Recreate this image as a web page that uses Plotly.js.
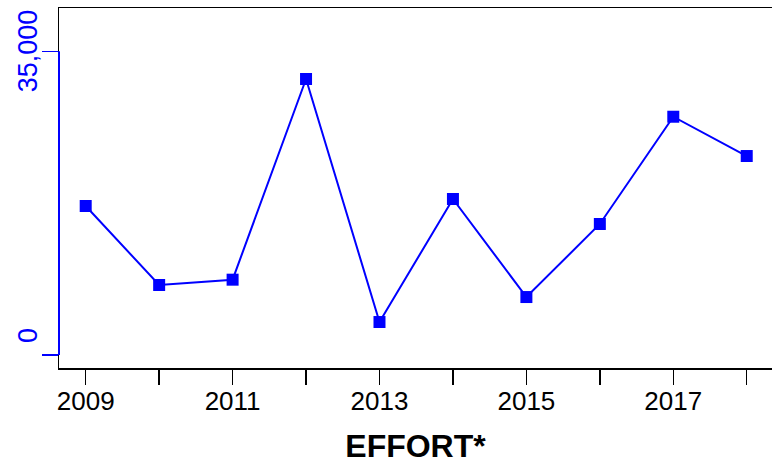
<!DOCTYPE html>
<html>
<head>
<meta charset="utf-8">
<script src="https://cdn.plot.ly/plotly-3.0.1.min.js"></script>
<style>html,body{margin:0;padding:0;background:#fff;}#chart{width:772px;height:466px;}</style>
</head>
<body>
<div id="chart"></div>
<script>
// Data
const years = [2009, 2010, 2011, 2012, 2013, 2014, 2015, 2016, 2017, 2018];
const effort = [17170, 8070, 8680, 31810, 3800, 17980, 6680, 15100, 27460, 22930];
const xTickVals = [2009, 2010, 2011, 2012, 2013, 2014, 2015, 2016, 2017, 2018];
const xTickText = ["2009", "", "2011", "", "2013", "", "2015", "", "2017", ""];
const yTickVals = [0, 35000];
const yTickText = ["0", "35,000"];
const titleText = "EFFORT*";

const FONT = "Liberation Sans, Arial, Helvetica, sans-serif";
const BLUE = "#0000FF";

const trace = {
  x: years, y: effort, type: "scatter", mode: "lines+markers",
  line: {color: BLUE, width: 2},
  marker: {color: BLUE, symbol: "square", size: 12},
  cliponaxis: false, hoverinfo: "none"
};

const annotations = yTickVals.map((v, i) => ({
  xref: "paper", yref: "y", x: 0, y: v,
  text: yTickText[i], showarrow: false, textangle: -90,
  xanchor: "center", yanchor: "middle",
  xshift: -31, yshift: (v === 0 ? 19 : 0),
  font: {family: FONT, size: 27, color: BLUE}
}));

const layout = {
  width: 772, height: 466,
  margin: {l: 59, r: 0, t: 8, b: 98, pad: 0},
  paper_bgcolor: "#fff", plot_bgcolor: "#fff",
  showlegend: false,
  font: {family: FONT, color: "#000"},
  xaxis: {
    range: [2008.6365, 2018.344], showgrid: false, zeroline: false,
    showline: true, mirror: true, linecolor: "#000", linewidth: 1.5,
    ticks: "outside", ticklen: 15, tickwidth: 1.5, tickcolor: "#000",
    tickmode: "array", tickvals: xTickVals, ticktext: xTickText,
    ticklabelstandoff: -6,
    tickfont: {family: FONT, size: 26, color: "#000"},
    title: {text: titleText, font: {family: FONT, size: 32, color: "#000", weight: "bold"}, standoff: 20}
  },
  yaxis: {
    range: [-1498, 39990], showgrid: false, zeroline: false,
    showline: true, linecolor: "#000", linewidth: 1.5,
    ticks: "outside", ticklen: 16, tickwidth: 1.5, tickcolor: BLUE,
    tickmode: "array", tickvals: yTickVals, showticklabels: false
  },
  shapes: [{
    type: "line", xref: "paper", yref: "y", x0: 0, x1: 0, y0: yTickVals[0], y1: yTickVals[1],
    line: {color: BLUE, width: 2}, layer: "above"
  }],
  annotations: annotations
};

Plotly.newPlot("chart", [trace], layout, {staticPlot: true, displayModeBar: false});
</script>
</body>
</html>
